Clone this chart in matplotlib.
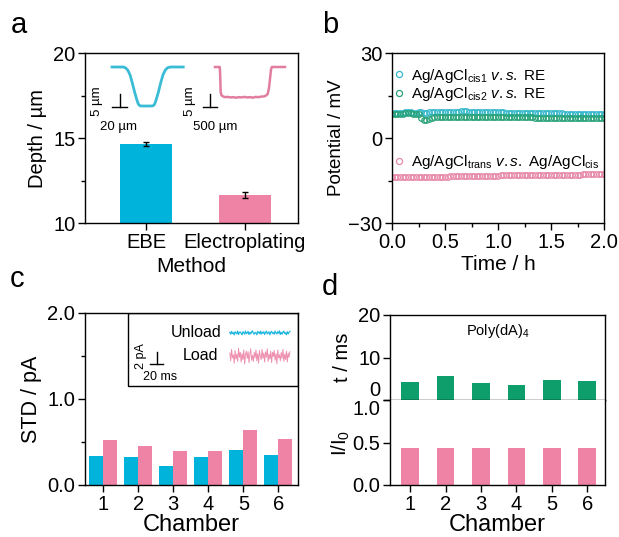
import numpy as np
import matplotlib
matplotlib.use('Agg')
import matplotlib.pyplot as plt
from matplotlib.patches import Rectangle
from matplotlib.ticker import MultipleLocator, FormatStrFormatter

plt.rcParams['font.family'] = ['Liberation Sans', 'DejaVu Sans']
plt.rcParams['mathtext.fontset'] = 'custom'
plt.rcParams['mathtext.rm'] = 'Liberation Sans'
plt.rcParams['mathtext.it'] = 'Liberation Sans:italic'
plt.rcParams['mathtext.bf'] = 'Liberation Sans:bold'

# ---------------- data ----------------
methods = ['EBE', 'Electroplating']
depth = [14.65, 11.65]
depth_err = [0.1, 0.2]

# inset profiles (µm)
ebe_prof_x = [0, 15, 18, 21, 24, 27, 30, 33, 35, 37, 40, 52, 55, 57, 59, 62, 65, 68, 71, 74, 78, 95]
ebe_prof_y = [0, 0, -0.3, -1.2, -3, -6, -9.5, -12.5, -14.2, -14.9, -15, -15, -14.9, -14.2, -12.5,
              -9.5, -6, -3, -1.2, -0.3, 0, 0]
ep_prof_x = [0, 170, 185, 195, 205, 230, 280, 360, 450, 550, 650, 750, 850, 950, 1050, 1150, 1250,
             1350, 1450, 1550, 1650, 1750, 1820, 1880, 1930, 1970, 2000, 2030, 2500]
ep_prof_y = [0, 0, -3, -7, -9.8, -10.8, -11.3, -11.6, -11.5, -11.7, -11.6, -11.8, -11.6, -11.7,
             -11.5, -11.7, -11.6, -11.8, -11.5, -11.6, -11.4, -11.3, -11.0, -10.4, -8, -4, -1, 0, 0]

# panel b potentials (mV), 0-2 h
pot_cis1 = [8.7, 8.8, 8.9, 9.0, 9.0, 9.1, 9.1, 9.1, 9.0, 9.0, 9.1, 9.1, 9.0,
            9.0, 9.1, 9.1, 9.2, 9.2, 9.2, 9.2, 9.3, 9.3, 9.3, 9.3, 9.3, 9.3, 9.4, 9.4, 9.4,
            9.3, 9.3, 9.3, 9.3, 9.2, 9.2, 9.2, 9.2, 9.2, 9.1, 9.1, 9.1, 9.1, 9.1, 9.0, 9.0,
            9.0, 9.0, 9.0, 8.9, 8.9, 8.9, 8.9, 8.9, 8.9, 8.8, 8.8, 8.8, 8.8, 8.8, 8.7, 8.7,
            8.7, 8.7, 8.7, 8.7, 8.6, 8.6, 8.6, 8.6, 8.6, 8.6, 8.5, 8.5, 8.5, 8.5, 8.5, 8.5,
            8.4, 8.4, 8.4, 8.4]
pot_cis2 = [8.3, 8.4, 8.5, 8.6, 8.6, 8.7, 8.7, 8.7, 8.6, 8.5, 8.3, 7.0, 6.3, 6.2, 6.6,
            7.1, 7.3, 7.4, 7.4, 7.5, 7.5, 7.5, 7.5, 7.5, 7.5, 7.5, 7.5, 7.5, 7.5, 7.5, 7.5,
            7.5, 7.4, 7.4, 7.4, 7.4, 7.4, 7.4, 7.4, 7.4, 7.4, 7.4, 7.4, 7.4, 7.3, 7.3, 7.3,
            7.3, 7.3, 7.3, 7.3, 7.3, 7.3, 7.3, 7.2, 7.2, 7.2, 7.2, 7.2, 7.2, 7.2, 7.2, 7.2,
            7.1, 7.1, 7.1, 7.1, 7.1, 7.1, 7.1, 7.1, 7.0, 7.0, 7.0, 7.0, 7.0, 7.0, 7.0, 7.0,
            7.0, 7.0]
pot_trans = [-13.9, -13.9, -13.9, -13.8, -13.8, -13.8, -13.8, -13.8, -13.8, -13.8, -13.7,
             -13.7, -13.7, -13.7, -13.7, -13.7, -13.6, -13.6, -13.6, -13.6, -13.6, -13.6,
             -13.5, -13.5, -13.5, -13.5, -13.5, -13.5, -13.4, -13.4, -13.4, -13.4, -13.4,
             -13.4, -13.3, -13.3, -13.3, -13.3, -13.3, -13.3, -13.3, -13.2, -13.2, -13.2,
             -13.2, -13.2, -13.2, -13.2, -13.1, -13.1, -13.1, -13.1, -13.1, -13.1, -13.1,
             -13.0, -13.0, -13.0, -13.0, -13.0, -13.0, -13.0, -13.0, -12.9, -12.9, -12.9,
             -12.9, -12.9, -12.9, -12.9, -12.9, -12.9, -12.8, -12.8, -12.8, -12.8, -12.8,
             -12.8, -12.8, -12.8, -12.8]

# panel c
chambers = [1, 2, 3, 4, 5, 6]
std_unload = [0.34, 0.32, 0.22, 0.33, 0.41, 0.35]
std_load = [0.52, 0.45, 0.40, 0.40, 0.64, 0.54]
noise_unload = [0.1, -0.2, 0.25, -0.1, 0.05, -0.3, 0.2, 0.0, -0.15, 0.3, -0.25, 0.1, 0.15, -0.05,
                -0.3, 0.2, 0.05, -0.2, 0.3, -0.1, 0.0, 0.25, -0.25, 0.1, -0.15, 0.2, 0.35, -0.05,
                -0.2, 0.1, 0.0, -0.3, 0.25, 0.05, -0.1, 0.3, -0.2, 0.15, -0.05, 0.2, -0.25, 0.1,
                0.3, -0.15, 0.0, 0.2, -0.3, 0.1, 0.25, -0.1, 0.05, -0.2, 0.3, 0.0, -0.15, 0.2,
                -0.05, 0.35, -0.25, 0.1, -0.2, 0.15, 0.3, -0.1, 0.05, -0.3, 0.2, -0.15, 0.1, 0.25]
noise_load = [0.5, -0.8, 1.1, -0.3, 0.2, -1.2, 0.9, -0.5, 0.3, -0.9, 1.3, -0.2, 0.6, -1.0, 0.4,
              -0.6, 1.0, -1.3, 0.2, 0.8, -0.4, 0.7, -1.1, 0.3, 1.2, -0.7, 0.1, -0.9, 0.6, -0.3,
              1.0, -0.8, 0.4, -1.2, 0.9, 0.0, -0.6, 1.1, -0.4, 0.5, -1.0, 0.7, -0.2, 1.2, -0.9,
              0.3, -0.5, 0.8, -1.1, 0.6, -0.1, 0.9, -0.7, 0.4, -1.3, 1.0, -0.3, 0.2, -0.8, 0.6,
              -0.4, 1.1, -0.9, 0.3, -0.6, 0.8, -1.0, 0.5, -0.2, 0.7]

# panel d
dwell_ms = [4.3, 5.6, 4.1, 3.6, 4.6, 4.5]
i_ratio = [0.44, 0.44, 0.44, 0.435, 0.44, 0.435]

# ---------------- style ----------------
CYAN = '#00B3DA'
PINK = '#EE83A5'
GREEN = '#0E9E6C'
FS = 14.5
W, H = 619, 537
fig = plt.figure(figsize=(W / 100, H / 100), dpi=100)


def px_axes(x0, y0, x1, y1):
    return fig.add_axes([x0 / W, 1 - y1 / H, (x1 - x0) / W, (y1 - y0) / H])


def style(ax):
    for s in ax.spines.values():
        s.set_linewidth(1.0)
    ax.tick_params(which='major', direction='out', length=5, width=1, labelsize=FS, pad=2)
    ax.tick_params(which='minor', direction='out', length=3, width=1)


# ---------------- panel a ----------------
axa = px_axes(85, 53, 298, 223)
style(axa)
xa = np.arange(len(methods))
axa.bar(xa, depth, width=0.525, color=[CYAN, PINK], bottom=0)
axa.errorbar(xa, depth, yerr=depth_err, fmt='none', ecolor='black', elinewidth=1,
             capsize=2, capthick=1)
axa.set_xlim(-0.616, 1.535)
axa.set_ylim(10, 20)
axa.set_xticks(xa)
axa.set_xticklabels(methods)
axa.yaxis.set_major_locator(MultipleLocator(5))
axa.yaxis.set_minor_locator(MultipleLocator(2.5))
axa.set_ylabel('Depth / µm', fontsize=FS, labelpad=4)
axa.set_xlabel('Method', fontsize=15, labelpad=4)

# insets (profiles)
ia = px_axes(100, 60, 190, 115)
ia.set_axis_off()
ia.set_xlim(-16, 104)
ia.set_ylim(-18.46, 2.69)
ia.plot(ebe_prof_x, ebe_prof_y, color='#3BBCD6', lw=2)
ia.plot([0, 20], [-15.5, -15.5], color='black', lw=1)
ia.plot([10, 10], [-15.5, -10.5], color='black', lw=1)
ia.text(-20, -13, '5 µm', rotation=90, ha='center', va='center', fontsize=9.5)
ia.text(8, -23.2, '20 µm', ha='center', va='center', fontsize=9.5)

ib = px_axes(185, 60, 295, 115)
ib.set_axis_off()
ib.set_xlim(-1071, 2857)
ib.set_ylim(-18.46, 2.69)
ib.plot(ep_prof_x, ep_prof_y, color='#E17EA0', lw=1.8)
ib.plot([-430, 70], [-15.5, -15.5], color='black', lw=1)
ib.plot([-180, -180], [-15.5, -10.5], color='black', lw=1)
ib.text(-900, -13, '5 µm', rotation=90, ha='center', va='center', fontsize=9.5)
ib.text(0, -23.2, '500 µm', ha='center', va='center', fontsize=9.5)

# ---------------- panel b ----------------
axb = px_axes(392, 53, 604, 223)
style(axb)
t1 = np.linspace(0, 2, len(pot_cis1))
t2 = np.linspace(0, 2, len(pot_cis2))
t3 = np.linspace(0, 2, len(pot_trans))
mk = dict(marker='o', ls='none', markersize=4, mfc='none', mew=0.9)
l1, = axb.plot(t1, pot_cis1, color='#35B8CC', **mk)
l2, = axb.plot(t2, pot_cis2, color='#2BA37A', **mk)
l3, = axb.plot(t3, pot_trans, color='#E88AAA', **mk)
axb.set_xlim(0, 2)
axb.set_ylim(-30, 30)
axb.xaxis.set_major_locator(MultipleLocator(0.5))
axb.xaxis.set_minor_locator(MultipleLocator(0.25))
axb.xaxis.set_major_formatter(FormatStrFormatter('%.1f'))
axb.yaxis.set_major_locator(MultipleLocator(30))
axb.yaxis.set_minor_locator(MultipleLocator(15))
axb.set_ylabel('Potential / mV', fontsize=13.5, labelpad=2)
axb.set_xlabel('Time / h', fontsize=15, labelpad=2)
lab1 = r'Ag/AgCl$_{\mathrm{cis1}}$ $\mathit{v.s.}$ RE'
lab2 = r'Ag/AgCl$_{\mathrm{cis2}}$ $\mathit{v.s.}$ RE'
lab3 = r'Ag/AgCl$_{\mathrm{trans}}$ $\mathit{v.s.}$ Ag/AgCl$_{\mathrm{cis}}$'
leg1 = axb.legend([l1, l2], [lab1, lab2], loc='upper left', bbox_to_anchor=(0.01, 0.92),
                  frameon=False, fontsize=11, handlelength=0.6, handletextpad=0.5,
                  labelspacing=0.05, borderpad=0, borderaxespad=0, markerscale=1.1)
axb.add_artist(leg1)
axb.legend([l3], [lab3], loc='upper left', bbox_to_anchor=(0.01, 0.41),
           frameon=False, fontsize=11, handlelength=0.6, handletextpad=0.5,
           borderpad=0, borderaxespad=0, markerscale=1.1)

# ---------------- panel c ----------------
axc = px_axes(85, 313, 298, 485)
style(axc)
xc = np.array(chambers)
axc.bar(xc - 0.2, std_unload, width=0.4, color=CYAN)
axc.bar(xc + 0.2, std_load, width=0.4, color=PINK)
axc.set_xlim(0.48, 6.56)
axc.set_ylim(0, 2.0)
axc.set_xticks(chambers)
axc.yaxis.set_major_locator(MultipleLocator(1.0))
axc.yaxis.set_minor_locator(MultipleLocator(0.5))
axc.yaxis.set_major_formatter(FormatStrFormatter('%.1f'))
axc.set_ylabel('STD / pA', fontsize=15.5, labelpad=4)
axc.set_xlabel('Chamber', fontsize=17, labelpad=0)
axc.add_patch(Rectangle((0.204, 0.573), 0.796, 0.427, transform=axc.transAxes,
                        fill=False, lw=1.0, edgecolor='black', zorder=5))
tr = axc.transAxes
nu = len(noise_unload)
xu = 0.68 + np.arange(nu) / (nu - 1) * (0.962 - 0.68)
axc.plot(xu, 0.884 + np.array(noise_unload) * 0.035, color='#1FB6E0', lw=0.9, transform=tr)
nl = len(noise_load)
xl = 0.68 + np.arange(nl) / (nl - 1) * (0.962 - 0.68)
axc.plot(xl, 0.75 + np.array(noise_load) * 0.035, color='#EE8FB0', lw=0.7, transform=tr)
axc.text(0.643, 0.884, 'Unload', ha='right', va='center', fontsize=11.5, transform=tr)
axc.text(0.624, 0.75, 'Load', ha='right', va='center', fontsize=11.5, transform=tr)
axc.plot([0.305, 0.366], [0.703, 0.703], color='black', lw=1, transform=tr)
axc.plot([0.336, 0.336], [0.703, 0.773], color='black', lw=1, transform=tr)
axc.text(0.262, 0.75, '2 pA', rotation=90, ha='center', va='center', fontsize=9, transform=tr)
axc.text(0.352, 0.625, '20 ms', ha='center', va='center', fontsize=9, transform=tr)

# ---------------- panel d ----------------
axd1 = px_axes(390, 315, 605, 400)
axd2 = px_axes(390, 400, 605, 485)
style(axd1)
style(axd2)
axd1.bar(chambers, dwell_ms, width=0.5, color=GREEN)
axd1.set_xlim(0.43, 6.5)
axd1.set_ylim(0, 20)
axd1.set_xticks(chambers)
axd1.set_xticklabels([])
axd1.set_yticks([0, 10, 20])
axd1.set_ylabel('t / ms', fontsize=FS, labelpad=2)
axd1.text(0.5, 0.815, r'Poly(dA)$_4$', ha='center', va='center', fontsize=10.5,
          transform=axd1.transAxes)
axd2.bar(chambers, i_ratio, width=0.5, color=PINK)
axd2.set_xlim(0.43, 6.5)
axd2.set_ylim(0, 1.0)
axd2.set_xticks(chambers)
axd2.set_yticks([0, 0.5, 1.0])
axd2.yaxis.set_major_formatter(FormatStrFormatter('%.1f'))
axd2.set_ylabel(r'I/I$_0$', fontsize=FS, labelpad=2)
axd2.set_xlabel('Chamber', fontsize=17, labelpad=0)
axd2.spines['top'].set_visible(False)
axd1.yaxis.set_label_coords(-0.175, 0.5)
axd2.yaxis.set_label_coords(-0.175, 0.5)
axd1.get_yticklabels()[0].set_va('bottom')
axd2.get_yticklabels()[-1].set_va('top')

# panel letters
for ch, x, y in [('a', 11, 33), ('b', 322, 33), ('c', 10, 287), ('d', 322, 295)]:
    fig.text(x / W, 1 - y / H, ch, fontsize=21, ha='left', va='baseline')

fig.savefig('out.png', dpi=100)
